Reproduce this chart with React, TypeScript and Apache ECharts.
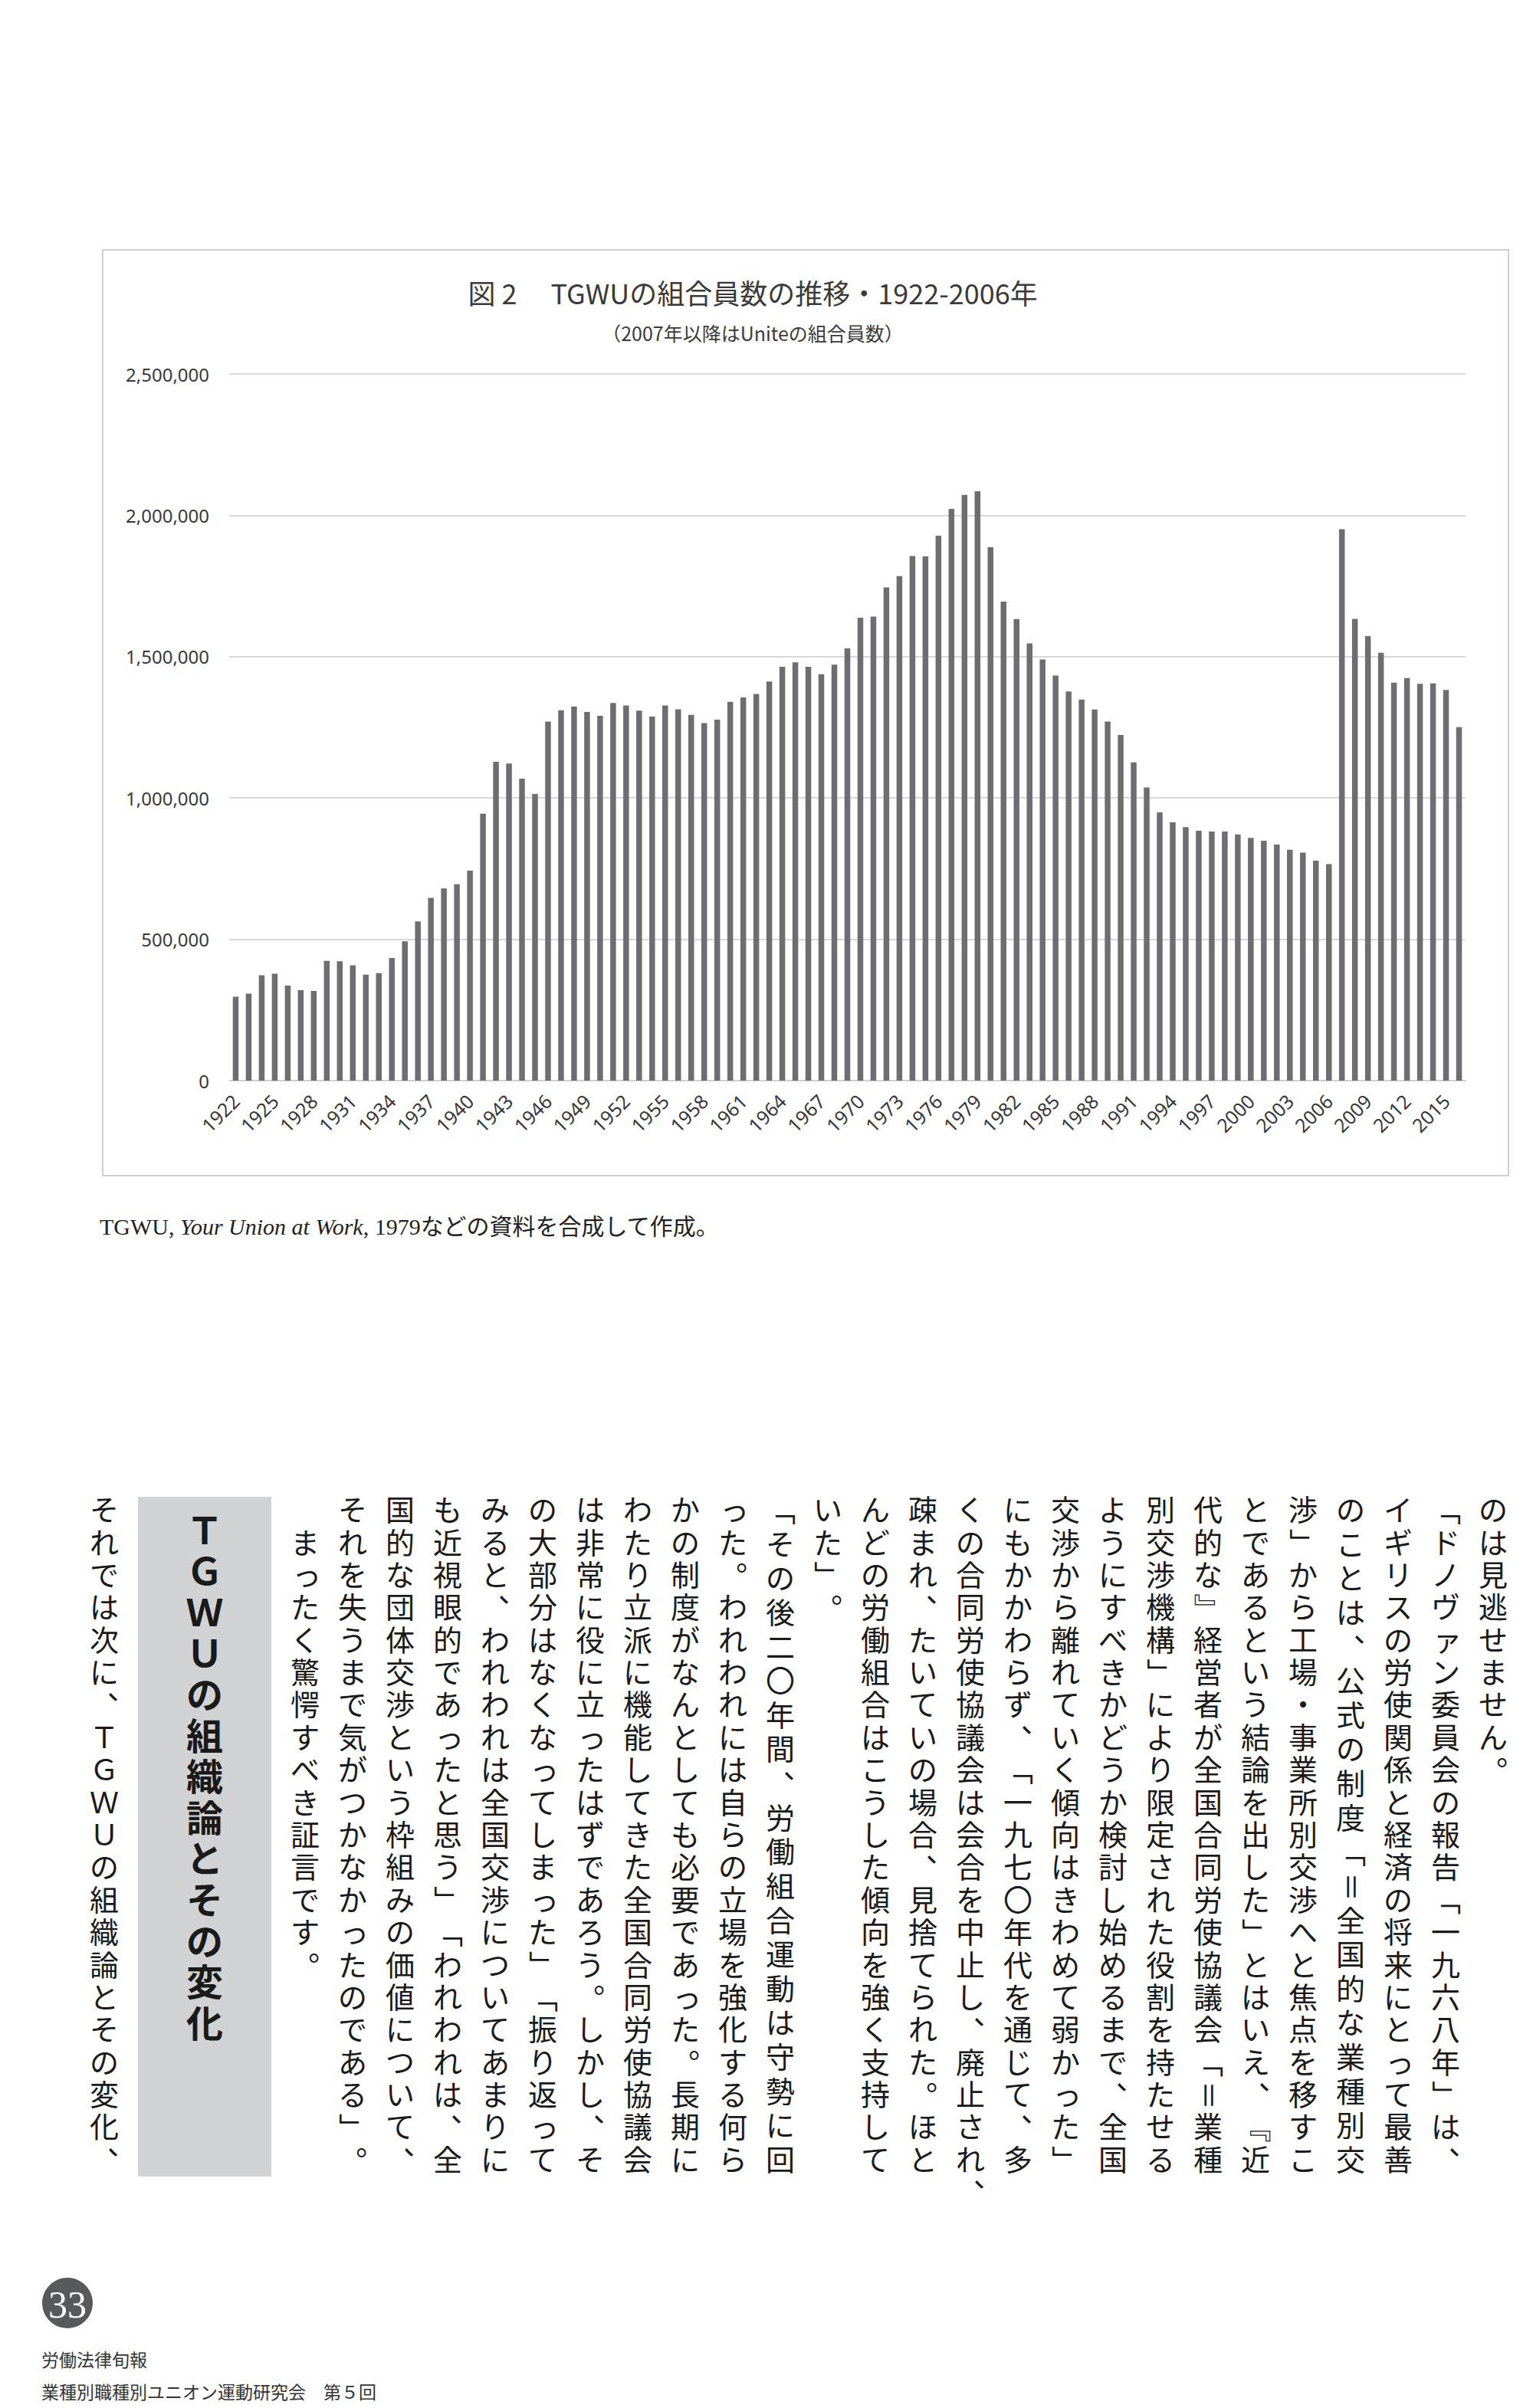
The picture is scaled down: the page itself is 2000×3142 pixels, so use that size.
import React, { useEffect, useRef } from "react";
import * as echarts from "echarts";

// ---------- chart data ----------
const years = [
  "1922","1923","1924","1925","1926","1927","1928","1929","1930","1931",
  "1932","1933","1934","1935","1936","1937","1938","1939","1940","1941",
  "1942","1943","1944","1945","1946","1947","1948","1949","1950","1951",
  "1952","1953","1954","1955","1956","1957","1958","1959","1960","1961",
  "1962","1963","1964","1965","1966","1967","1968","1969","1970","1971",
  "1972","1973","1974","1975","1976","1977","1978","1979","1980","1981",
  "1982","1983","1984","1985","1986","1987","1988","1989","1990","1991",
  "1992","1993","1994","1995","1996","1997","1998","1999","2000","2001",
  "2002","2003","2004","2005","2006","2007","2008","2009","2010","2011",
  "2012","2013","2014","2015","2016"
];

const members = [
  297000, 308000, 373000, 378000, 336000, 320000, 317000, 424000, 422000, 408000,
  375000, 380000, 434000, 493000, 563000, 647000, 680000, 695000, 743000, 944000,
  1128000, 1122000, 1068000, 1014000, 1270000, 1310000, 1323000, 1304000, 1291000, 1336000,
  1327000, 1309000, 1288000, 1327000, 1314000, 1294000, 1265000, 1277000, 1340000, 1356000,
  1368000, 1412000, 1464000, 1480000, 1464000, 1438000, 1472000, 1529000, 1638000, 1642000,
  1745000, 1785000, 1856000, 1855000, 1928000, 2023000, 2072000, 2085000, 1887000, 1695000,
  1633000, 1547000, 1490000, 1433000, 1377000, 1348000, 1313000, 1270000, 1223000, 1126000,
  1037000, 949000, 914000, 897000, 884000, 881000, 881000, 871000, 859000, 849000,
  835000, 817000, 807000, 778000, 766000, 1951000, 1634000, 1573000, 1514000, 1408000,
  1424000, 1404000, 1405000, 1382000, 1251000
];

const yTicks = [0, 500000, 1000000, 1500000, 2000000, 2500000];

const chartTitle = "図 2　 TGWUの組合員数の推移・1922-2006年";
const chartSubtitle = "（2007年以降はUniteの組合員数）";

// ---------- page text ----------
const bodyColumns = [
  "のは見逃せません。",
  "「ドノヴァン委員会の報告「一九六八年」は、",
  "イギリスの労使関係と経済の将来にとって最善",
  "のことは、公式の制度「＝全国的な業種別交",
  "渉」から工場・事業所別交渉へと焦点を移すこ",
  "とであるという結論を出した」とはいえ、『近",
  "代的な』経営者が全国合同労使協議会「＝業種",
  "別交渉機構」により限定された役割を持たせる",
  "ようにすべきかどうか検討し始めるまで、全国",
  "交渉から離れていく傾向はきわめて弱かった」",
  "にもかかわらず、「一九七〇年代を通じて、多",
  "くの合同労使協議会は会合を中止し、廃止され、",
  "疎まれ、たいていの場合、見捨てられた。ほと",
  "んどの労働組合はこうした傾向を強く支持して",
  "いた」。",
  "「その後二〇年間、労働組合運動は守勢に回",
  "った。われわれには自らの立場を強化する何ら",
  "かの制度がなんとしても必要であった。長期に",
  "わたり立派に機能してきた全国合同労使協議会",
  "は非常に役に立ったはずであろう。しかし、そ",
  "の大部分はなくなってしまった」「振り返って",
  "みると、われわれは全国交渉についてあまりに",
  "も近視眼的であったと思う」「われわれは、全",
  "国的な団体交渉という枠組みの価値について、",
  "それを失うまで気がつかなかったのである」。",
  "　まったく驚愕すべき証言です。"
];
const headingText = "ＴＧＷＵの組織論とその変化";
const lastColumn = "それでは次に、ＴＧＷＵの組織論とその変化、";
const captionParts = ["TGWU, ", "Your Union at Work", ", 1979などの資料を合成して作成。"];
const pageNumber = "33";
const footer1 = "労働法律旬報";
const footer2 = "業種別職種別ユニオン運動研究会　第５回";

const CJK = "Noto Sans CJK JP";
// compact-metric primary font keeps each glyph box within its cell; CJK glyphs fall back to Noto Sans CJK JP
const VFONT = "Liberation Serif, Noto Sans CJK JP";
const ROTATE_CHARS = "「」『』［］（）＝ー〜";
const PUNCT_CHARS = "、。，．";
const SMALL_KANA = "ぁぃぅぇぉっゃゅょゎァィゥェォッャュョヮ";

function verticalColumn(text: string, cx: number, top: number, bottom: number, fs: number) {
  const out: any[] = [];
  const chars = Array.from(text);
  const cell = (bottom - top) / 21;
  let n = chars.length;
  let hang = false;
  if (n === 22 && PUNCT_CHARS.includes(chars[21])) { hang = true; n = 21; }
  const full = n >= 20;
  const pitch = full ? (bottom - top - cell) / (n - 1) : cell;
  chars.forEach((ch, i) => {
    if (ch === "　") return;
    let cy = top + cell / 2 + i * pitch;
    if (hang && i === 21) cy = top + cell / 2 + 20 * pitch + cell;
    let dx = 0, rot = 0;
    if (ROTATE_CHARS.includes(ch)) rot = -Math.PI / 2;
    else if (PUNCT_CHARS.includes(ch)) rot = Math.PI; // moves the mark to the upper right of its cell
    else if (SMALL_KANA.includes(ch)) dx = fs * 0.06;
    out.push({
      type: "text",
      x: cx + dx,
      y: cy,
      rotation: rot,
      silent: true,
      style: {
        text: ch,
        fontSize: fs,
        lineHeight: fs,
        fontFamily: VFONT,
        fill: "#1a1a1a",
        align: "center",
        verticalAlign: "middle",
      },
    });
  });
  return out;
}

function buildGraphics() {
  const g: any[] = [];
  // chart frame
  g.push({ type: "rect", silent: true, z: -10, shape: { x: 134, y: 326, width: 1834, height: 1208 }, style: { fill: "none", stroke: "#cfcfcf", lineWidth: 2 } });
  g.push({ type: "text", x: 982, y: 381, silent: true, style: { text: chartTitle, fontSize: 36, fontFamily: CJK, fill: "#3a3a3a", align: "center", verticalAlign: "middle" } });
  g.push({ type: "text", x: 982, y: 434, silent: true, style: { text: chartSubtitle, fontSize: 25, fontFamily: CJK, fill: "#3a3a3a", align: "center", verticalAlign: "middle" } });
  // caption
  g.push({
    type: "text", x: 130, y: 1600, silent: true,
    style: {
      text: "{a|" + captionParts[0] + "}{b|" + captionParts[1] + "}{a|" + captionParts[2] + "}",
      verticalAlign: "middle",
      align: "left",
      rich: {
        a: { fontSize: 30, fontFamily: "Liberation Serif, " + CJK, fill: "#222" },
        b: { fontSize: 30, fontFamily: "Liberation Serif, " + CJK, fontStyle: "italic", fill: "#222" },
      },
    },
  });
  // body text columns (right to left)
  const TOP = 1950, BOTTOM = 2840, FS = 38;
  bodyColumns.forEach((col, k) => {
    g.push(...verticalColumn(col, 1948 - k * 62, TOP, BOTTOM, FS));
  });
  // heading box
  g.push({ type: "rect", silent: true, shape: { x: 180, y: 1953, width: 174, height: 887 }, style: { fill: "#d1d2d4" } });
  Array.from(headingText).forEach((ch, i) => {
    g.push({
      type: "text", x: 267, y: 1998 + i * 53.6, silent: true,
      style: {
        text: ch, fontSize: 48, lineHeight: 48, fontFamily: VFONT, fontWeight: "bold", fill: "#1a1a1a",
        align: "center", verticalAlign: "middle",
      },
    });
  });
  g.push(...verticalColumn(lastColumn, 136, TOP, BOTTOM, FS));
  // footer
  g.push({ type: "circle", silent: true, shape: { cx: 88, cy: 3005, r: 33 }, style: { fill: "#58595b" } });
  g.push({ type: "text", x: 88, y: 3007, silent: true, style: { text: pageNumber, fontSize: 50, fontFamily: "Liberation Serif", fill: "#ffffff", align: "center", verticalAlign: "middle" } });
  g.push({ type: "text", x: 54, y: 3078, silent: true, style: { text: footer1, fontSize: 23, fontFamily: CJK, fill: "#333", align: "left", verticalAlign: "middle" } });
  g.push({ type: "text", x: 54, y: 3120, silent: true, style: { text: footer2, fontSize: 23, fontFamily: CJK, fill: "#333", align: "left", verticalAlign: "middle" } });
  return g;
}

export default function App() {
  const ref = useRef<HTMLDivElement>(null);
  useEffect(() => {
    document.body.style.margin = "0";
    if (!ref.current) return;
    const chart = echarts.init(ref.current, undefined, { renderer: "svg" });
    chart.setOption({
      animation: false,
      backgroundColor: "#ffffff",
      grid: { left: 299, right: 88, top: 488, bottom: 3142 - 1410, containLabel: false },
      xAxis: {
        type: "category",
        data: years,
        boundaryGap: true,
        axisLine: { show: true, lineStyle: { color: "#d0d0d0", width: 2 } },
        axisTick: { show: false },
        axisLabel: { interval: 2, rotate: 45, fontSize: 25, color: "#383838", margin: 22, fontFamily: "Noto Sans" },
      },
      yAxis: {
        type: "value",
        min: yTicks[0],
        max: yTicks[yTicks.length - 1],
        interval: yTicks[1] - yTicks[0],
        axisLine: { show: false },
        axisTick: { show: false },
        axisLabel: {
          fontSize: 24, color: "#383838", margin: 26, fontFamily: "Noto Sans",
          formatter: (v: number) => v.toLocaleString("en-US"),
        },
        splitLine: { lineStyle: { color: "#d9d9d9", width: 2 } },
      },
      series: [
        { type: "bar", data: members, barWidth: 7.5, itemStyle: { color: "#6d6e71" }, silent: true },
      ],
      graphic: buildGraphics(),
    });
    return () => chart.dispose();
  }, []);
  return <div ref={ref} style={{ position: "absolute", left: 0, top: 0, width: 2000, height: 3142 }} />;
}
